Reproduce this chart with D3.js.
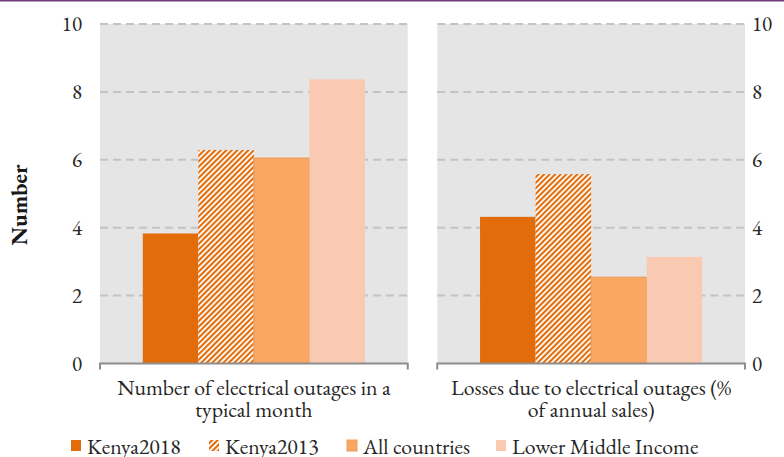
<!DOCTYPE html>
<html>
<head>
<meta charset="utf-8">
<script src="https://cdn.jsdelivr.net/npm/d3@7"></script>
<style>
  html, body { margin: 0; padding: 0; background: #fff; }
  svg { display: block; }
</style>
</head>
<body>
<svg id="chart" width="784" height="457"></svg>
<script>
// Indicators (one panel each) and their wrapped labels
const categories = [
  "Number of electrical outages in a typical month",
  "Losses due to electrical outages (% of annual sales)"
];
const categoryLines = [
  ["Number of electrical outages in a", "typical month"],
  ["Losses due to electrical outages (%", "of annual sales)"]
];
const seriesNames = ["Kenya2018", "Kenya2013", "All countries", "Lower Middle Income"];
const kenya2018 = [3.83, 4.32];
const kenya2013 = [6.29, 5.58];
const allCountries = [6.05, 2.54];
const lowerMiddleIncome = [8.37, 3.14];
const yTicks = [0, 2, 4, 6, 8, 10];
const yTitle = "Number";

const seriesValues = [kenya2018, kenya2013, allCountries, lowerMiddleIncome];
const colors = ["#E36C0A", "hatch", "#FAA764", "#F9C9B1"];
const FONT = '"EB Garamond", "Liberation Serif", serif';
const FS = 21.8;

const svg = d3.select("#chart");
const W = 784;

// Top rule
svg.append("rect").attr("x", 0).attr("y", 0).attr("width", W).attr("height", 1.5).attr("fill", "#6E3D7E");

// Hatch pattern for Kenya2013
const defs = svg.append("defs");
const pat = defs.append("pattern")
  .attr("id", "hatch")
  .attr("patternUnits", "userSpaceOnUse")
  .attr("width", 3.9).attr("height", 3.9)
  .attr("patternTransform", "rotate(45)");
pat.append("rect").attr("width", 3.9).attr("height", 3.9).attr("fill", "#fff");
pat.append("rect").attr("width", 2.1).attr("height", 3.9).attr("fill", "#E36C0A");

const fillFor = i => colors[i] === "hatch" ? "url(#hatch)" : colors[i];

const y = d3.scaleLinear().domain([0, 10]).range([363.5, 24]);

const panel = d3.scaleBand()
  .domain(categories)
  .range([100, 745])
  .paddingInner(0.0875)
  .paddingOuter(0);

categories.forEach((cat, ci) => {
  const x0 = panel(cat), w = panel.bandwidth();
  const g = svg.append("g");

  // Plot background
  g.append("rect")
    .attr("x", x0).attr("y", y(10))
    .attr("width", w).attr("height", y(0) - y(10))
    .attr("fill", "#E5E5E5");

  // Gridlines
  g.selectAll("line.grid")
    .data(yTicks.filter(t => t > 0))
    .join("line")
    .attr("class", "grid")
    .attr("x1", x0).attr("x2", x0 + w)
    .attr("y1", d => y(d)).attr("y2", d => y(d))
    .attr("stroke", "#C3C3C3")
    .attr("stroke-width", 2)
    .attr("stroke-dasharray", "8,5");

  // Bars
  const xs = d3.scaleBand()
    .domain(seriesNames)
    .range([x0, x0 + w])
    .paddingInner(0)
    .paddingOuter(0.77);

  seriesNames.forEach((s, si) => {
    const v = seriesValues[si][ci];
    g.append("rect")
      .attr("x", xs(s)).attr("y", y(v))
      .attr("width", xs.bandwidth()).attr("height", y(0) - y(v))
      .attr("fill", fillFor(si))
      .attr("stroke", si === 2 ? "#EA9D5C" : "none")
      .attr("stroke-width", si === 2 ? 1.2 : 0);
  });

  // Category axis line with end ticks
  g.append("path")
    .attr("d", `M${x0},${y(0) + 6}V${y(0)}H${x0 + w}V${y(0) + 6}`)
    .attr("fill", "none")
    .attr("stroke", "#8E8E8E")
    .attr("stroke-width", 2);

  // Category label
  const cx = x0 + w / 2;
  g.append("text")
    .attr("text-anchor", "middle")
    .style("font-family", FONT)
    .attr("font-size", FS)
    .attr("fill", "#262626")
    .selectAll("tspan")
    .data(categoryLines[ci])
    .join("tspan")
    .attr("x", cx)
    .attr("y", (d, i) => 395 + i * 22)
    .text(d => d);
});

// Value axes: left of first panel, right of second panel
const leftX = panel(categories[0]);
const rightX = panel(categories[1]) + panel.bandwidth();
const axisLeft = d3.axisLeft(y).tickValues(yTicks).tickSize(0).tickPadding(18);
const axisRight = d3.axisRight(y).tickValues(yTicks).tickSize(0).tickPadding(7);

[[axisLeft, leftX], [axisRight, rightX]].forEach(([ax, xp]) => {
  const a = svg.append("g").attr("transform", `translate(${xp},0)`).call(ax);
  a.select(".domain").remove();
  a.selectAll("text")
    .style("font-family", FONT)
    .attr("font-size", 21)
    .attr("fill", "#262626");
});

// Axis title
svg.append("text")
  .attr("transform", "translate(27,205) rotate(-90)")
  .attr("text-anchor", "middle")
  .style("font-family", FONT)
  .attr("font-size", 23)
  .attr("font-weight", "bold")
  .attr("fill", "#1a1a1a")
  .text(yTitle);

// Legend
const legendX = [71, 209, 347, 496];
const lg = svg.append("g");
seriesNames.forEach((s, i) => {
  lg.append("rect")
    .attr("x", legendX[i]).attr("y", 440)
    .attr("width", 10).attr("height", 11)
    .attr("fill", fillFor(i))
    .attr("stroke", i === 2 ? "#EA9D5C" : "none");
  lg.append("text")
    .attr("x", legendX[i] + 16).attr("y", 453.5)
    .style("font-family", FONT)
    .attr("font-size", FS)
    .attr("fill", "#262626")
    .text(s);
});
</script>
</body>
</html>
